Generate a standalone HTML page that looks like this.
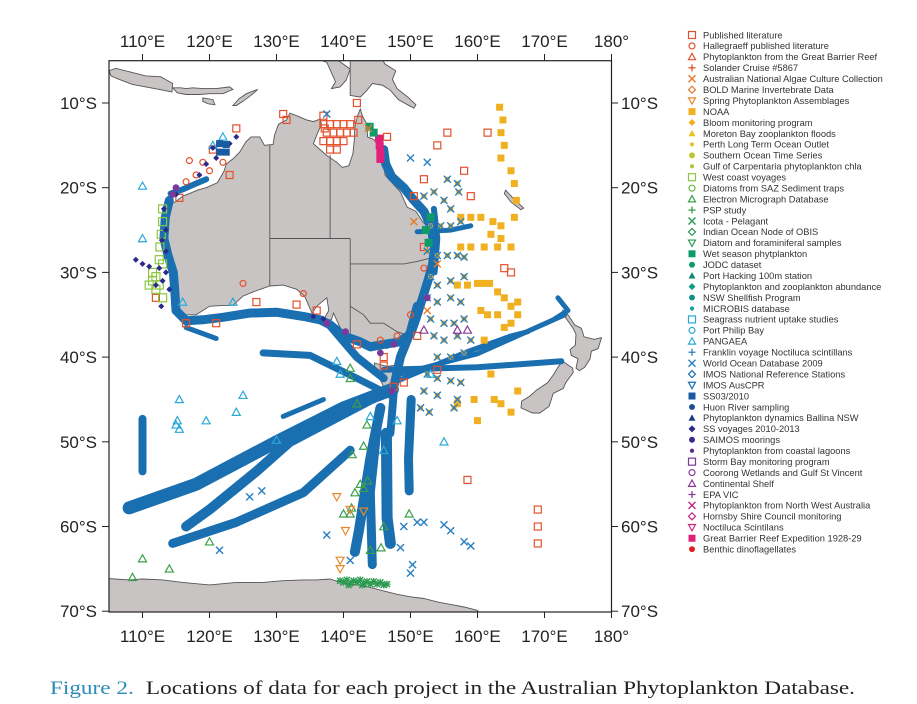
<!DOCTYPE html>
<html><head><meta charset="utf-8">
<style>
html,body{margin:0;padding:0;background:#fff;}
svg{display:block;font-family:"Liberation Sans",Arial,sans-serif;}
</style></head>
<body>
<svg id="chart" width="917" height="704" viewBox="0 0 917 704" xmlns="http://www.w3.org/2000/svg">
<defs><clipPath id="mapclip"><rect x="109" y="60.7" width="502.5" height="551.3"/></clipPath></defs>
<g id="land" clip-path="url(#mapclip)"></g>
<g id="tracks" clip-path="url(#mapclip)"></g>
<g id="points" clip-path="url(#mapclip)"></g>
<rect x="109" y="60.7" width="502.5" height="551.3" fill="none" stroke="#222" stroke-width="1.2"/>
<g id="axes"></g>
<g id="legend"></g>
<text x="50" y="694" font-family="'Liberation Serif',serif" font-size="19" textLength="805" lengthAdjust="spacingAndGlyphs"><tspan fill="#2a8ab8">Figure 2.</tspan><tspan fill="#222" dx="10">Locations of data for each project in the Australian Phytoplankton Database.</tspan></text>
</svg>
<script>
// ---- axis data ----
const lonTicks=[110,120,130,140,150,160,170,180];
const latTicks=[10,20,30,40,50,60,70];
// ---- land outlines (lon, lat south) ----
const australia=[[113.5,22],[113.8,24],[113.3,26],[114,28],[115,30],[115.1,32],[115,34.3],[116.5,35],[118,35],[120,34],[122,33.9],[123.5,33.9],[125,32.8],[126.5,32.3],[129,31.6],[131,31.5],[133,32],[134.2,32.8],[135.3,34.8],[136,34],[137.5,33],[137.8,34.5],[137,35.6],[138.2,35.6],[138.5,34.8],[139.5,36.5],[140,37.8],[141.5,38.3],[143,38.8],[144.5,38.2],[145.5,38.6],[146.5,39],[148,37.8],[150,37.5],[150.2,36],[151.2,34],[151.6,33],[152.5,32],[153.1,30],[153.6,28.5],[153.2,26.5],[153,25],[151.8,24],[150.8,22.8],[149.5,22.3],[148.5,20.5],[147,19.2],[146.2,18.5],[146,17],[145.4,16],[145.3,15],[144.5,14.3],[143.6,14],[143.5,12.5],[142.8,11.5],[142.5,10.7],[142.1,11.5],[141.7,12.8],[141.6,14.5],[141.4,16],[140.8,17.4],[139.8,17.6],[139,17],[137.5,16.2],[136.5,15.5],[135.5,14.8],[136,13.8],[136.7,12.5],[136.5,11.9],[135.5,12.2],[134.5,12],[133,11.5],[132,11.2],[131.5,12],[130.3,12.5],[129.7,13.8],[129.5,14.9],[128.2,15],[127.5,14],[126.2,14],[125.4,14.6],[124.5,15.8],[123.5,16.6],[122.5,17.2],[122.2,18],[121.2,19.4],[119.5,20],[118.2,20.3],[117,20.7],[116,21],[115,21.6],[114.2,22]];
const tasmania=[[144.6,40.7],[146.5,41.1],[148.3,40.9],[148.3,42],[148,43],[147,43.6],[146,43.5],[145.3,42.4],[144.7,41.3]];
const newGuinea=[[130.5,0],[141,2.6],[141,9.1],[142.5,9.3],[143.5,8.5],[144.3,7.7],[145.8,7.9],[147,8.5],[148.2,9.6],[149.3,10.1],[150.5,10.6],[150.8,10.2],[149.6,9.3],[148,8.3],[147.3,7.2],[147.8,6.2],[146.2,5.4],[145.5,4.5],[144,3.7],[142,3],[140,2],[132,2],[132.5,4],[135,4.5],[137.5,5.2],[138.8,7.5],[138.2,8.3],[139.5,8.1],[140.4,7.3],[141,6]];
const java=[[105,6.2],[106,5.9],[108,6.3],[110.5,6.8],[112.7,6.9],[114.5,7.7],[114.4,8.7],[112.5,8.4],[110.5,8.1],[108.5,7.8],[106.5,7.2],[105.3,6.8]];
const lesserSunda=[[114.5,8.2],[115.7,8.2],[116.5,8.3],[117.5,8.2],[119,8.3],[121,8.3],[123,8.1],[123.5,8.4],[122,8.9],[120,8.9],[118.5,9],[116.5,9],[115.2,8.8]];
const sumba=[[119,9.4],[120.5,9.6],[120.8,10.2],[119.8,10.1],[119,9.8]];
const timor=[[123.5,10.3],[124.4,9.5],[125.5,8.9],[127.2,8.4],[126.5,8.9],[125,9.8],[124,10.3]];
const newZealandN=[[172.7,34.4],[173.5,35],[174.5,36.2],[175.5,36.6],[175.9,37.6],[177.4,37.9],[178.5,37.7],[178,39],[177,39.3],[176.8,40.2],[176,41.2],[175.2,41.6],[174.7,41.3],[175,40.2],[174,39.8],[173.8,39.1],[174.6,38.6],[174.7,37.3],[174.2,36.5],[173.2,35.4]];
const newZealandS=[[172.7,40.5],[174.2,41.3],[174.3,41.8],[173.2,43],[172.8,43.7],[171.3,44.3],[170.7,45.8],[169.3,46.6],[168.2,46.6],[166.5,46],[166.6,45.2],[167.8,44.6],[168.8,43.9],[170.5,43],[171.4,42],[172,41.2]];
const newCaledonia=[[164.2,20.3],[165.5,21.4],[166.9,22.4],[166.5,22.6],[165,21.7],[164,20.7]];
const antarctica=[[104,66.1],[108,66.3],[110,66.2],[113,66.3],[116,66.6],[120,66.9],[124,66.6],[128,66.6],[131,66.4],[134,66.3],[136,66.3],[138,66.2],[139.5,66.6],[141,66.8],[143,67],[144.5,67.3],[146,67.6],[148,68],[150,68.3],[152,68.5],[154,68.9],[156,69.2],[158,69.5],[160,69.9],[161,71],[104,71]];
const borders=[[[129,14.9],[129,31.6]],[[129,26],[138,26]],[[138,26],[138,16.1]],[[141,26],[141,38.1]],[[138,26],[141,26]],[[141,29],[149,29],[151,28.7],[153.5,28.2]],[[141,34],[143,35],[144,36],[146,36],[148,37],[149.9,37.5]]];
// ---- CPR tracks (lon, lat south) ----
const trackCoast=[[114.2,20.7],[116,20.2],[118,19.5],[119.5,19]];
const trackWest=[[114,21.5],[113.4,23.5],[113.2,26],[113.8,28],[114.6,30],[114.8,32],[115,34.5],[116.5,35.7],[119,35.6],[122,35.3],[126,34.8],[130,34.7],[134,35.2],[136.5,35.6],[138,36.2]];
const trackSouth=[[138,36.2],[140,37.5],[142.5,38.2],[144,38.8],[146,38.5],[148.3,38.2],[150,37.3],[150.8,35.5],[151.8,33],[152.6,31],[153.3,29],[153.6,27],[153,24.5],[152,22.8],[150.5,21.5],[149,20],[147.2,18.7],[146.3,17.2],[146,15.5]];
const trackSeaEast=[[153.5,22.5],[154,26],[153.6,30]];
const trackTasSyd=[[151,34],[150,37],[148.5,40],[147.5,43.5]];
const trackSW1=[[147.3,43.8],[140,46],[130,50],[118,55],[108,57.8]];
const trackSW2=[[145,44.6],[132,50],[127,53.5],[120,58],[116.5,60]];
const trackSW3=[[141,51],[134,56],[124,59.5],[114.5,62]];
const trackVert=[[110,47.3],[110,53.5]];
const trackS1=[[145.5,46],[144,52],[142.3,60.5],[141.7,63]];
const trackS2=[[145,48.5],[144,56],[144.3,64.5]];
const trackS3=[[146.4,49],[146.5,59],[147,62]];
const trackS4=[[150.1,45],[149.7,52],[149.8,55.8]];
const trackS5=[[147.5,44],[147,49]];
const trackBightA=[[116.5,36.5],[121,37.8]];
const trackBightB=[[128,39.5],[135,39.8],[142,42.5],[147,44.5]];
const trackAdel=[[138,36.3],[142,40],[146,42.5]];
const trackE1=[[146,41.5],[160,41.2],[172.5,40.5]];
const trackE2=[[147.5,43],[158,39.5],[165,37.5],[167.5,37]];
const trackE3=[[148.5,42],[160,39.6],[173,35]];
const trackNZ=[[172,33],[173.5,34.5],[171.5,35.5]];
const trackCoral=[[151,25.2],[156,25],[159,24.5]];
const trackSoutherlyDiag=[[131,47],[137,45]];
// ---- point series (lon, lat south) ----
const pubLit=[[137,12.5],[138,12.5],[139,12.5],[140,12.5],[141,12.5],[137.5,13.5],[138.5,13.5],[139.5,13.5],[140.5,13.5],[141.5,13.5],[137,14.5],[138,14.5],[139,14.5],[140,14.5],[138,15.5],[139,15.5],[137,11.5],[142,10],[142.2,12],[137.2,13],[131,11.3],[124,13],[120.5,15.5],[123,18.5],[131.5,12],[150.5,21],[154,15],[155.5,13.5],[152,19],[146.5,14],[158,18],[159,21],[165,30],[152,27],[161.5,13.5],[164,29.5],[158.5,54.5],[169,58],[169,60],[169,62],[146,40],[151,37.5],[147.5,43.5],[146,41],[142,38.5],[136,34.5],[133,33.8],[127,33.5],[116.5,36],[121,36],[112,33],[154,41.5],[149,43],[115.5,21.2]];
const halleg=[[117,16.8],[119,17],[118,18.5],[116.5,19.3],[120,18],[122,17],[125,31.3],[134,32.5],[152,29.5],[150,35],[148,37.5],[145.5,38]];
const noaa=[[163.3,10.5],[163.8,12],[163.5,13.5],[164,15],[163.5,16.5],[165,18],[165.5,19.5],[165.8,21.5],[157.5,23.5],[159,23.5],[160.5,23.5],[162.3,24],[163.5,24.5],[165.5,23.5],[162,25.5],[163.5,26],[157.5,27],[159,27],[161,27],[163,27],[165,27],[157,31.5],[158.5,31.5],[160,31.3],[161,31.3],[161.8,31.3],[163,32.3],[164,33],[165,34],[166,33.5],[166,35],[160.5,34.5],[161.5,35],[163,35],[164,36.5],[165,36],[161,38],[162,42],[162.5,45],[163.5,45.5],[165,46.5],[166,44],[157,45.5],[160,47.5],[159.5,45]];
const icota=[[152,21],[153.5,20.5],[155.5,19],[157,19.5],[155,21.5],[157.2,20.5],[156,22.5],[153,24.5],[154.5,24.5],[156,24.5],[157.5,24],[152.5,27.5],[154,28],[155.5,28],[157,28],[158,28.2],[153,30.5],[154,31.5],[156,31],[158,30.5],[152.5,33],[154,33.5],[156,33],[157.5,33.5],[153,35.5],[155,36],[156.5,36],[158,35.5],[153.5,37.5],[155,38],[157,37.5],[159,38],[154,40],[156,40],[158,39.5],[152.5,42],[154,42.5],[156,42.8],[157.5,43],[152,44],[154,44.5],[156.5,46],[157,45],[152.8,46.5],[151.5,46]];
const wod=[[137.5,11.3],[150,16.5],[152.5,17],[137.5,61],[150.3,64.5],[150,65.5],[155,59.8],[156,60.5],[158,61.8],[159,62.3],[152,59.5],[121.5,62.8],[126,56.5],[127.8,55.8],[151,59.5],[141,64],[148.5,62.5],[149,60]];
const pangaea=[[110,19.8],[115.5,45],[115,48],[115.5,48.5],[115.2,47.5],[124,46.5],[125,44.5],[119.5,47.5],[130,49.8],[155,50],[153,42],[146,51],[148,47.5],[139.5,42],[120.5,15],[122,14],[116,33.5],[123.5,33.5],[139,40.5],[144,47],[110,26]];
const electron=[[141,41.3],[141,42.5],[142,45.5],[143.5,48],[143,50.5],[141.3,51.5],[142.5,55],[141.7,56],[143,55.5],[143.6,54.6],[140,58.5],[141.2,57.8],[146,60],[144,62.8],[145.6,62.5],[141,58.5],[149.8,58.5],[110,63.8],[114,65],[120,61.8],[108.5,66]];
const spring=[[139,56.5],[141,58],[139.5,64],[139.5,65],[143,58.2],[140.3,60.5]];
const antarcticGreen=[[139.5,66.4],[140,66.6],[140.5,66.3],[141,66.7],[141.5,66.4],[142,66.6],[142.5,66.3],[143,66.7],[143.5,66.5],[144,66.8],[144.5,66.5],[145,66.8],[145.5,66.6],[146,66.9],[146.5,66.8],[140.8,66.9],[142.8,66.9]];
const westCoast=[[111.5,31],[111,31.5],[112,30.5],[111.5,30],[112.5,31.5],[113,22.5],[113,24],[112.8,25.5],[112.6,27],[112.5,28.5],[113,29],[113,33],[112,32]];
const ssVoy=[[109,28.5],[110,29],[111,29.3],[112.5,29.5],[113.5,30],[112,31.5],[113,31],[114,32],[112.8,34],[120.5,15.3],[123,14.8],[124,14],[121,16.5],[119.5,17.2],[118.5,18.5],[115,20.8],[113.2,22.5],[113.5,25],[112.9,26.2],[113.5,27.5],[137,35.5],[135.5,35.2]];
const ss0310=[[121.5,14.8],[122.5,14.9],[121.5,15.8],[122.5,15.8]];
const magentaSq=[[145.3,14.2],[145.4,15],[145.5,15.8],[145.5,16.6]];
const wetSeason=[[143.9,12.8],[144.5,13.5],[152.3,25],[152.7,26.5],[153,23.5]];
const purpleDots=[[114.5,20.8],[115,20],[137.5,36],[140.3,37],[147.5,38.5],[147.2,44],[145.5,39.5],[152.5,33]];
const purpleTri=[[157,36.8],[158.5,36.8],[152,36.8]];
const orangeX=[[143.7,13],[150.5,24],[152.5,34.5],[154,29]];
// ---- legend data ----
const legendLabels=["Published literature","Hallegraeff published literature","Phytoplankton from the Great Barrier Reef","Solander Cruise #5867","Australian National Algae Culture Collection","BOLD Marine Invertebrate Data","Spring Phytoplankton Assemblages","NOAA","Bloom monitoring program","Moreton Bay zooplankton floods","Perth Long Term Ocean Outlet","Southern Ocean Time Series","Gulf of Carpentaria phytoplankton chla","West coast voyages","Diatoms from SAZ Sediment traps","Electron Micrograph Database","PSP study","Icota - Pelagant","Indian Ocean Node of OBIS","Diatom and foraminiferal samples","Wet season phytplankton","JODC dataset","Port Hacking 100m station","Phytoplankton and zooplankton abundance","NSW Shellfish Program","MICROBIS database","Seagrass nutrient uptake studies","Port Philip Bay","PANGAEA","Franklin voyage Noctiluca scintillans","World Ocean Database 2009","IMOS National Reference Stations","IMOS AusCPR","SS03/2010","Huon River sampling","Phytoplankton dynamics Ballina NSW","SS voyages 2010-2013","SAIMOS moorings","Phytoplankton from coastal lagoons","Storm Bay monitoring program","Coorong Wetlands and Gulf St Vincent","Continental Shelf","EPA VIC","Phytoplankton from North West Australia","Hornsby Shire Council monitoring","Noctiluca Scintilans","Great Barrier Reef Expedition 1928-29","Benthic dinoflagellates"];
const legendShapes=["sq","ci","tr","pl","x","di","td","fsq","fdi","ftr","fsm","fci","fsm","sq","ci","tr","pl","x","di","td","fsq","fci","ftr","fdi","fci","fsm","sq","ci","tr","pl","x","di","td","fsq","fci","ftr","fdi","fci","fsm","sq","ci","tr","pl","x","di","td","fsq","fci"];
const legendColors=["#e4502c","#e4502c","#e4502c","#e4502c","#e87a2b","#e87a2b","#e8892b","#f0b020","#f0b020","#f0c020","#e8c030","#b8c832","#a8c840","#8cc63f","#6ab845","#3aa04a","#3aa04a","#2a9a55","#2a9a55","#2a9a55","#0f9a6a","#0f9a6a","#0f8a7a","#109a8a","#10928a","#10a0a0","#2aa8d8","#2aa8d8","#2aa8d8","#2a7fc0","#2a7fc0","#1a6fb0","#1a6fb0","#1a5aa0","#1a4f9a","#1a3f8a","#2a2a8a","#3a2a8a","#5a2a8a","#7a3a9a","#8a3a9a","#8a3a9a","#8a3a9a","#c02a8a","#c02a8a","#d02a80","#e0207a","#e02020"];

const NS="http://www.w3.org/2000/svg";
function X(lon){return 109+(lon-105)*6.7;}
function Y(lat){return 103+(lat-10)*8.47;}
function el(tag,attrs,parent){const e=document.createElementNS(NS,tag);for(const k in attrs)e.setAttribute(k,attrs[k]);parent.appendChild(e);return e;}
function pts(a){return a.map(p=>X(p[0]).toFixed(1)+","+Y(p[1]).toFixed(1)).join(" ");}

// land
const land=document.getElementById('land');
[["australia",australia],["tasmania",tasmania],["new-guinea",newGuinea],["java",java],["lesser-sunda",lesserSunda],["sumba",sumba],["timor",timor],["new-zealand-north",newZealandN],["new-zealand-south",newZealandS],["new-caledonia",newCaledonia],["antarctica",antarctica]].forEach(([n,a])=>{
  const p=el('polygon',{points:pts(a),fill:"#c8c4c3",stroke:"#555",'stroke-width':0.9},land);
  
  
});
borders.forEach(b=>{
  const l=el('polyline',{points:pts(b),fill:"none",stroke:"#555",'stroke-width':0.9},land);
  
  
});

// tracks
const tracks=document.getElementById('tracks');
const trackList=[[trackWest,9],[trackSouth,9],[trackCoast,6],[trackSeaEast,6],[trackTasSyd,9],[trackSW1,13],[trackSW2,10],[trackSW3,9],[trackVert,8],[trackS1,10],[trackS2,9],[trackS3,11],[trackS4,9],[trackS5,8],[trackBightA,5],[trackBightB,7],[trackAdel,8],[trackE1,6],[trackE2,5],[trackE3,5],[trackNZ,5],[trackCoral,5],[trackSoutherlyDiag,5]];
trackList.forEach(([t,w])=>{
  const l=el('polyline',{points:pts(t),fill:"none",stroke:"#1a6fb0",'stroke-width':w,'stroke-linejoin':'round','stroke-linecap':'round'},tracks);
  
  
});

// markers
function marker(parent,shape,color,cx,cy,s){
  let e;const h=s/2;
  switch(shape){
    case "sq":e=el('rect',{x:cx-h,y:cy-h,width:s,height:s,fill:"none",stroke:color,'stroke-width':1.2},parent);break;
    case "fsq":e=el('rect',{x:cx-h,y:cy-h,width:s,height:s,fill:color},parent);break;
    case "ci":e=el('circle',{cx:cx,cy:cy,r:h*0.85,fill:"none",stroke:color,'stroke-width':1.2},parent);break;
    case "fci":e=el('circle',{cx:cx,cy:cy,r:h*0.85,fill:color},parent);break;
    case "fsm":e=el('circle',{cx:cx,cy:cy,r:h*0.6,fill:color},parent);break;
    case "tr":e=el('polygon',{points:`${cx},${cy-h} ${cx+h},${cy+h*0.8} ${cx-h},${cy+h*0.8}`,fill:"none",stroke:color,'stroke-width':1.2},parent);break;
    case "ftr":e=el('polygon',{points:`${cx},${cy-h} ${cx+h},${cy+h*0.8} ${cx-h},${cy+h*0.8}`,fill:color},parent);break;
    case "td":e=el('polygon',{points:`${cx},${cy+h} ${cx+h},${cy-h*0.8} ${cx-h},${cy-h*0.8}`,fill:"none",stroke:color,'stroke-width':1.2},parent);break;
    case "di":e=el('polygon',{points:`${cx},${cy-h} ${cx+h},${cy} ${cx},${cy+h} ${cx-h},${cy}`,fill:"none",stroke:color,'stroke-width':1.2},parent);break;
    case "fdi":e=el('polygon',{points:`${cx},${cy-h} ${cx+h},${cy} ${cx},${cy+h} ${cx-h},${cy}`,fill:color},parent);break;
    case "pl":e=el('path',{d:`M${cx-h},${cy}H${cx+h}M${cx},${cy-h}V${cy+h}`,stroke:color,'stroke-width':1.3},parent);break;
    case "x":e=el('path',{d:`M${cx-h},${cy-h}L${cx+h},${cy+h}M${cx+h},${cy-h}L${cx-h},${cy+h}`,stroke:color,'stroke-width':1.4},parent);break;
  }
  return e;
}
const points=document.getElementById('points');
const seriesList=[["published-literature",pubLit,"sq","#e4502c",7],["hallegraeff",halleg,"ci","#e4502c",7],["noaa",noaa,"fsq","#f0b020",7],["icota-orange",icota,"fsq","#f0b020",5],["icota",icota,"x","#2a7fc0",7],["world-ocean-database",wod,"x","#2a7fc0",7],["pangaea",pangaea,"tr","#2aa8d8",8],["electron-micrograph",electron,"tr","#3aa04a",8],["spring-assemblages",spring,"td","#e8892b",8],["antarctic-psp",antarcticGreen,"pl","#3aa04a",7],["antarctic-icota",antarcticGreen,"x","#2a9a55",6],["west-coast-voyages",westCoast,"sq","#8cc63f",8],["ss-voyages",ssVoy,"fdi","#2a2a8a",6],["ss03-2010",ss0310,"fsq","#1a5aa0",7],["gbr-expedition",magentaSq,"fsq","#e0207a",8],["wet-season",wetSeason,"fsq","#0f9a6a",8],["saimos",purpleDots,"fci","#7a3a9a",8],["continental-shelf",purpleTri,"tr","#8a3a9a",8],["algae-culture",orangeX,"x","#e87a2b",7]];
seriesList.forEach(([n,arr,shape,col,s])=>{
  arr.forEach(p=>{
    const m=marker(points,shape,col,X(p[0]),Y(p[1]),s);
    
    
  });
});

// axes
const axes=document.getElementById('axes');
lonTicks.forEach(v=>{
  const x=X(v);
  const t1=el('line',{x1:x,y1:60.7,x2:x,y2:54,stroke:"#222",'stroke-width':1},axes);
  
  
  const t2=el('line',{x1:x,y1:612,x2:x,y2:618,stroke:"#222",'stroke-width':1},axes);
  
  
  const lab=v===180?"180°":v+"°E";
  const a=el('text',{x:x,y:47,'text-anchor':'middle','font-size':17,fill:"#222"},axes);a.textContent=lab;
  
  
  const b=el('text',{x:x,y:642,'text-anchor':'middle','font-size':17,fill:"#222"},axes);b.textContent=lab;
  
  
});
latTicks.forEach(v=>{
  const y=Y(v);
  const t1=el('line',{x1:109,y1:y,x2:102,y2:y,stroke:"#222",'stroke-width':1},axes);
  
  
  const t2=el('line',{x1:611.5,y1:y,x2:618,y2:y,stroke:"#222",'stroke-width':1},axes);
  
  
  const a=el('text',{x:97,y:y+6,'text-anchor':'end','font-size':17,fill:"#222"},axes);a.textContent=v+"°S";
  
  
  const b=el('text',{x:621,y:y+6,'text-anchor':'start','font-size':17,fill:"#222"},axes);b.textContent=v+"°S";
  
  
});

// legend
const legend=document.getElementById('legend');
legendLabels.forEach((lab,i)=>{
  const y=35+i*10.94;
  const g=el('g',{},legend);
  
  
  marker(g,legendShapes[i],legendColors[i],692,y,7);
  const t=el('text',{x:703,y:y+3.3,'font-size':9.3,fill:"#333"},g);t.textContent=lab;
});
</script>
</body></html>
